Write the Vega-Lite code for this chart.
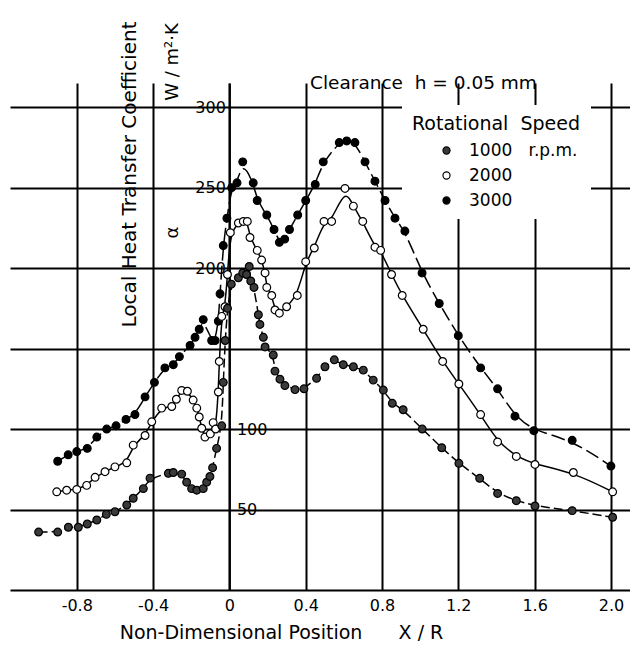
{
  "$schema": "https://vega.github.io/schema/vega-lite/v6.json",
  "autosize": "none",
  "width": 620,
  "height": 507,
  "padding": {"left": 10, "top": 83, "right": 0, "bottom": 63},
  "background": "white",
  "config": {
    "font": "DejaVu Sans",
    "view": {"stroke": null},
    "axis": {"labelColor": "black", "titleColor": "black", "titleFontWeight": "normal", "gridColor": "black", "gridWidth": 2, "gridOpacity": 1, "domainColor": "black", "domainWidth": 2, "ticks": false, "labelFontSize": 16, "titleFontSize": 18}
  },
  "title": {"text": "Clearance\u00a0\u00a0h = 0.05 mm", "anchor": "start", "frame": "group", "dx": 300, "offset": 0, "dy": 90, "fontSize": 18.5, "fontWeight": "normal", "color": "black", "baseline": "bottom"},
  "data": {"values": [
    {"speed": "3000", "x": -0.90, "a": 80}, {"speed": "3000", "x": -0.845, "a": 84}, {"speed": "3000", "x": -0.80, "a": 86}, {"speed": "3000", "x": -0.745, "a": 88}, {"speed": "3000", "x": -0.695, "a": 95}, {"speed": "3000", "x": -0.643, "a": 100}, {"speed": "3000", "x": -0.594, "a": 102}, {"speed": "3000", "x": -0.542, "a": 106}, {"speed": "3000", "x": -0.495, "a": 109}, {"speed": "3000", "x": -0.442, "a": 120}, {"speed": "3000", "x": -0.393, "a": 129}, {"speed": "3000", "x": -0.338, "a": 138}, {"speed": "3000", "x": -0.294, "a": 140}, {"speed": "3000", "x": -0.262, "a": 145}, {"speed": "3000", "x": -0.206, "a": 152}, {"speed": "3000", "x": -0.18, "a": 157}, {"speed": "3000", "x": -0.158, "a": 162}, {"speed": "3000", "x": -0.137, "a": 168}, {"speed": "3000", "x": -0.093, "a": 155}, {"speed": "3000", "x": -0.075, "a": 155}, {"speed": "3000", "x": -0.058, "a": 167}, {"speed": "3000", "x": -0.049, "a": 184}, {"speed": "3000", "x": -0.032, "a": 214}, {"speed": "3000", "x": -0.013, "a": 231}, {"speed": "3000", "x": 0.012, "a": 250}, {"speed": "3000", "x": 0.04, "a": 253}, {"speed": "3000", "x": 0.07, "a": 266}, {"speed": "3000", "x": 0.125, "a": 253}, {"speed": "3000", "x": 0.146, "a": 242}, {"speed": "3000", "x": 0.196, "a": 233}, {"speed": "3000", "x": 0.234, "a": 224}, {"speed": "3000", "x": 0.262, "a": 216}, {"speed": "3000", "x": 0.29, "a": 218}, {"speed": "3000", "x": 0.315, "a": 224}, {"speed": "3000", "x": 0.358, "a": 233}, {"speed": "3000", "x": 0.40, "a": 242}, {"speed": "3000", "x": 0.45, "a": 252}, {"speed": "3000", "x": 0.492, "a": 266}, {"speed": "3000", "x": 0.576, "a": 278}, {"speed": "3000", "x": 0.615, "a": 279}, {"speed": "3000", "x": 0.658, "a": 278}, {"speed": "3000", "x": 0.711, "a": 266}, {"speed": "3000", "x": 0.763, "a": 254}, {"speed": "3000", "x": 0.816, "a": 242}, {"speed": "3000", "x": 0.868, "a": 231}, {"speed": "3000", "x": 0.92, "a": 223}, {"speed": "3000", "x": 1.01, "a": 197}, {"speed": "3000", "x": 1.10, "a": 178}, {"speed": "3000", "x": 1.20, "a": 158}, {"speed": "3000", "x": 1.317, "a": 138}, {"speed": "3000", "x": 1.406, "a": 125}, {"speed": "3000", "x": 1.497, "a": 108}, {"speed": "3000", "x": 1.596, "a": 99}, {"speed": "3000", "x": 1.797, "a": 93}, {"speed": "3000", "x": 2.0, "a": 77},
    {"speed": "2000", "x": -0.905, "a": 61}, {"speed": "2000", "x": -0.853, "a": 62}, {"speed": "2000", "x": -0.80, "a": 62.5}, {"speed": "2000", "x": -0.748, "a": 65}, {"speed": "2000", "x": -0.704, "a": 70}, {"speed": "2000", "x": -0.652, "a": 73.5}, {"speed": "2000", "x": -0.60, "a": 76.5}, {"speed": "2000", "x": -0.538, "a": 79}, {"speed": "2000", "x": -0.504, "a": 90}, {"speed": "2000", "x": -0.442, "a": 96}, {"speed": "2000", "x": -0.407, "a": 104.5}, {"speed": "2000", "x": -0.355, "a": 113}, {"speed": "2000", "x": -0.302, "a": 114}, {"speed": "2000", "x": -0.278, "a": 118.5}, {"speed": "2000", "x": -0.25, "a": 124}, {"speed": "2000", "x": -0.22, "a": 123.5}, {"speed": "2000", "x": -0.19, "a": 118}, {"speed": "2000", "x": -0.171, "a": 113}, {"speed": "2000", "x": -0.158, "a": 107.5}, {"speed": "2000", "x": -0.145, "a": 100.5}, {"speed": "2000", "x": -0.128, "a": 95}, {"speed": "2000", "x": -0.10, "a": 97}, {"speed": "2000", "x": -0.085, "a": 104}, {"speed": "2000", "x": -0.072, "a": 100}, {"speed": "2000", "x": -0.058, "a": 123}, {"speed": "2000", "x": -0.053, "a": 142}, {"speed": "2000", "x": -0.04, "a": 170}, {"speed": "2000", "x": -0.023, "a": 176}, {"speed": "2000", "x": -0.01, "a": 196}, {"speed": "2000", "x": 0.005, "a": 222}, {"speed": "2000", "x": 0.047, "a": 228}, {"speed": "2000", "x": 0.073, "a": 229}, {"speed": "2000", "x": 0.094, "a": 229}, {"speed": "2000", "x": 0.108, "a": 219}, {"speed": "2000", "x": 0.146, "a": 211}, {"speed": "2000", "x": 0.169, "a": 205}, {"speed": "2000", "x": 0.187, "a": 197}, {"speed": "2000", "x": 0.196, "a": 188}, {"speed": "2000", "x": 0.222, "a": 183}, {"speed": "2000", "x": 0.239, "a": 174}, {"speed": "2000", "x": 0.262, "a": 172}, {"speed": "2000", "x": 0.30, "a": 176}, {"speed": "2000", "x": 0.356, "a": 183}, {"speed": "2000", "x": 0.40, "a": 204}, {"speed": "2000", "x": 0.445, "a": 212.5}, {"speed": "2000", "x": 0.496, "a": 229}, {"speed": "2000", "x": 0.536, "a": 229}, {"speed": "2000", "x": 0.606, "a": 249.5}, {"speed": "2000", "x": 0.65, "a": 238.5}, {"speed": "2000", "x": 0.699, "a": 229}, {"speed": "2000", "x": 0.763, "a": 213}, {"speed": "2000", "x": 0.793, "a": 211}, {"speed": "2000", "x": 0.85, "a": 196}, {"speed": "2000", "x": 0.906, "a": 183}, {"speed": "2000", "x": 1.016, "a": 162}, {"speed": "2000", "x": 1.118, "a": 142}, {"speed": "2000", "x": 1.203, "a": 128}, {"speed": "2000", "x": 1.317, "a": 109}, {"speed": "2000", "x": 1.406, "a": 92}, {"speed": "2000", "x": 1.504, "a": 83}, {"speed": "2000", "x": 1.602, "a": 78}, {"speed": "2000", "x": 1.803, "a": 73}, {"speed": "2000", "x": 2.009, "a": 61},
    {"speed": "1000", "x": -1.0, "a": 36}, {"speed": "1000", "x": -0.90, "a": 36}, {"speed": "1000", "x": -0.844, "a": 39}, {"speed": "1000", "x": -0.792, "a": 39}, {"speed": "1000", "x": -0.745, "a": 41}, {"speed": "1000", "x": -0.695, "a": 43.5}, {"speed": "1000", "x": -0.645, "a": 47}, {"speed": "1000", "x": -0.60, "a": 48.6}, {"speed": "1000", "x": -0.538, "a": 52.8}, {"speed": "1000", "x": -0.504, "a": 57}, {"speed": "1000", "x": -0.451, "a": 63}, {"speed": "1000", "x": -0.416, "a": 69.5}, {"speed": "1000", "x": -0.32, "a": 72.5}, {"speed": "1000", "x": -0.294, "a": 73}, {"speed": "1000", "x": -0.25, "a": 72}, {"speed": "1000", "x": -0.224, "a": 67}, {"speed": "1000", "x": -0.198, "a": 63}, {"speed": "1000", "x": -0.171, "a": 62}, {"speed": "1000", "x": -0.137, "a": 63}, {"speed": "1000", "x": -0.119, "a": 67}, {"speed": "1000", "x": -0.102, "a": 70.5}, {"speed": "1000", "x": -0.088, "a": 76}, {"speed": "1000", "x": -0.067, "a": 88}, {"speed": "1000", "x": -0.04, "a": 102}, {"speed": "1000", "x": -0.032, "a": 129}, {"speed": "1000", "x": -0.022, "a": 155}, {"speed": "1000", "x": -0.01, "a": 175}, {"speed": "1000", "x": 0.01, "a": 190}, {"speed": "1000", "x": 0.047, "a": 194}, {"speed": "1000", "x": 0.07, "a": 197}, {"speed": "1000", "x": 0.09, "a": 196}, {"speed": "1000", "x": 0.104, "a": 201}, {"speed": "1000", "x": 0.112, "a": 192}, {"speed": "1000", "x": 0.129, "a": 188}, {"speed": "1000", "x": 0.152, "a": 171}, {"speed": "1000", "x": 0.16, "a": 165}, {"speed": "1000", "x": 0.178, "a": 157}, {"speed": "1000", "x": 0.187, "a": 151}, {"speed": "1000", "x": 0.23, "a": 146}, {"speed": "1000", "x": 0.239, "a": 136}, {"speed": "1000", "x": 0.265, "a": 131}, {"speed": "1000", "x": 0.291, "a": 127}, {"speed": "1000", "x": 0.344, "a": 124.5}, {"speed": "1000", "x": 0.391, "a": 125}, {"speed": "1000", "x": 0.457, "a": 131.5}, {"speed": "1000", "x": 0.501, "a": 138.7}, {"speed": "1000", "x": 0.55, "a": 143}, {"speed": "1000", "x": 0.597, "a": 140}, {"speed": "1000", "x": 0.65, "a": 138.7}, {"speed": "1000", "x": 0.702, "a": 136.6}, {"speed": "1000", "x": 0.754, "a": 130.4}, {"speed": "1000", "x": 0.807, "a": 124.2}, {"speed": "1000", "x": 0.854, "a": 116}, {"speed": "1000", "x": 0.911, "a": 112}, {"speed": "1000", "x": 1.011, "a": 100}, {"speed": "1000", "x": 1.113, "a": 88.4}, {"speed": "1000", "x": 1.203, "a": 78.7}, {"speed": "1000", "x": 1.312, "a": 69.4}, {"speed": "1000", "x": 1.406, "a": 60}, {"speed": "1000", "x": 1.504, "a": 55.5}, {"speed": "1000", "x": 1.602, "a": 52.2}, {"speed": "1000", "x": 1.797, "a": 49.3}, {"speed": "1000", "x": 2.009, "a": 45.2}
  ]},
  "encoding": {
    "x": {"field": "x", "type": "quantitative", "scale": {"domain": [-1.15, 2.1], "nice": false, "zero": false},
      "axis": {"values": [-0.8, -0.4, 0, 0.4, 0.8, 1.2, 1.6, 2.0], "grid": true, "labelPadding": 7,
        "labelExpr": "datum.value == 0 ? '0' : (datum.value < 0 ? '-' : '') + format(abs(datum.value), '.1f')",
        "title": "Non-Dimensional Position\u00a0\u00a0\u00a0\u00a0\u00a0\u00a0X / R", "titleFontSize": 19, "titleX": 271, "titleY": 42, "titleAlign": "center", "titleBaseline": "middle"}}
  },
  "layer": [
    {
      "encoding": {
        "y": {"field": "a", "type": "quantitative", "scale": {"domain": [0, 315], "nice": false},
          "axis": {"orient": "left", "offset": -219.4, "values": [200, 250, 300], "grid": true, "domain": true, "labelPadding": 4,
            "title": "Local Heat Transfer Coefficient", "titleFontSize": 20, "titleAngle": -90, "titleX": -100, "titleY": 91, "titleAlign": "center", "titleBaseline": "middle"}}
      },
      "layer": [
        {"transform": [{"filter": "datum.speed == '1000'"}], "mark": {"type": "line", "interpolate": "basis", "color": "black", "strokeWidth": 1.5, "strokeDash": [9, 4]}},
        {"transform": [{"filter": "datum.speed == '2000'"}], "mark": {"type": "line", "interpolate": "basis", "color": "black", "strokeWidth": 1.5}},
        {"transform": [{"filter": "datum.speed == '3000'"}], "mark": {"type": "line", "interpolate": "basis", "color": "black", "strokeWidth": 1.5, "strokeDash": [14, 5]}}
      ]
    },
    {
      "mark": {"type": "point", "shape": "circle", "filled": true, "stroke": "black", "strokeWidth": 1.2, "size": 60, "opacity": 1},
      "encoding": {
        "y": {"field": "a", "type": "quantitative", "scale": {"domain": [0, 315], "nice": false},
          "axis": {"orient": "right", "offset": -400.6, "values": [50, 100, 150], "grid": true, "domain": false, "labelPadding": 7,
            "labelExpr": "datum.value == 150 ? '' : datum.label",
            "title": "\u03b1\u00a0\u00a0\u00a0\u00a0\u00a0\u00a0\u00a0\u00a0\u00a0\u00a0\u00a0\u00a0\u00a0\u00a0\u00a0\u00a0\u00a0\u00a0\u00a0\u00a0\u00a0\u00a0W / m\u00b2\u00b7K", "titleAngle": -90, "titleX": -57, "titleY": 155, "titleAlign": "left", "titleBaseline": "middle"}},
        "fill": {"field": "speed", "type": "nominal", "scale": {"domain": ["1000", "2000", "3000"], "range": ["#3a3a3a", "white", "black"]},
          "legend": {"title": "Rotational\u00a0\u00a0Speed", "orient": "none", "legendX": 392, "legendY": 22, "padding": 10, "fillColor": "white", "strokeColor": null, "titleFontSize": 19, "titleFontWeight": "normal", "titleColor": "black", "labelFontSize": 17, "labelColor": "black", "symbolOffset": 26, "symbolSize": 50, "symbolStrokeColor": "black", "symbolStrokeWidth": 1.2, "symbolType": "circle", "rowPadding": 7, "labelOffset": 14, "titlePadding": 8, "labelLimit": 400,
            "labelExpr": "datum.label == '1000' ? '1000\u00a0\u00a0\u00a0r.p.m.\u00a0\u00a0\u00a0\u00a0\u00a0\u00a0\u00a0\u00a0\u00a0' : datum.label"}}
      }
    }
  ],
  "resolve": {"axis": {"y": "independent"}}
}
